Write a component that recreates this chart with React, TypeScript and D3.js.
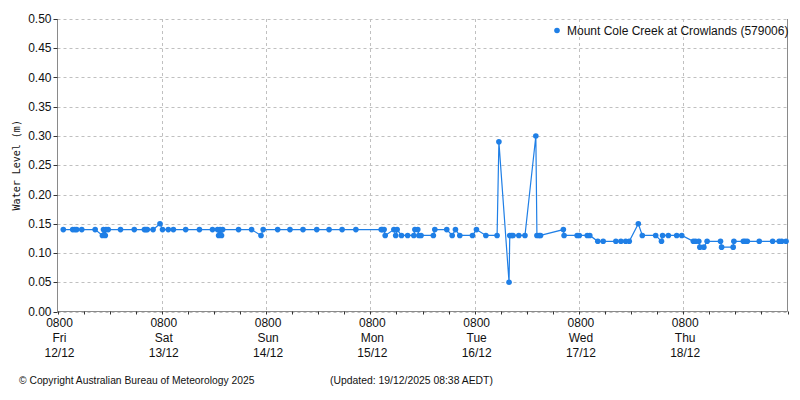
import React from "react";
import * as d3 from "d3";

const readingTimes = [
  "12 09:20", "12 11:30", "12 12:00", "12 12:25", "12 13:35", "12 16:40", "12 18:20", "12 18:35", "12 19:00", "12 19:10",
  "12 19:40", "12 22:30", "13 01:40", "13 04:00", "13 04:20", "13 04:40", "13 06:00", "13 07:35", "13 08:10", "13 09:30",
  "13 10:40", "13 13:30", "13 16:40", "13 19:40", "13 20:50", "13 21:05", "13 21:25", "13 21:45", "13 22:00", "14 01:40",
  "14 04:40", "14 06:50", "14 07:20", "14 10:40", "14 13:30", "14 16:30", "14 19:40", "14 22:30", "15 01:30", "15 04:40",
  "15 10:30", "15 10:45", "15 11:10", "15 11:25", "15 13:25", "15 13:50", "15 14:10", "15 15:10", "15 16:35", "15 18:00",
  "15 18:15", "15 18:55", "15 19:10", "15 19:40", "15 22:30", "15 22:50", "16 01:35", "16 02:50", "16 03:35", "16 04:35",
  "16 07:30", "16 08:25", "16 10:35", "16 13:10", "16 13:35", "16 15:55", "16 16:05", "16 16:30", "16 16:50", "16 18:10",
  "16 19:35", "16 22:05", "16 22:20", "16 22:50", "16 23:10", "17 04:25", "17 04:35", "17 07:35", "17 08:05", "17 09:55",
  "17 10:30", "17 12:20", "17 13:35", "17 16:30", "17 17:40", "17 18:45", "17 19:35", "17 21:40", "17 22:35", "18 01:40",
  "18 03:00", "18 03:15", "18 04:35", "18 06:30", "18 07:40", "18 10:20", "18 10:50", "18 11:35", "18 11:50", "18 12:45",
  "18 13:30", "18 16:35", "18 16:50", "18 19:30", "18 19:40", "18 21:50", "18 22:15", "18 22:45", "19 01:30", "19 04:35",
  "19 06:05", "19 06:40", "19 07:40",
];

const readingLevels = [
  0.14, 0.14, 0.14, 0.14, 0.14, 0.14, 0.13, 0.14, 0.13, 0.14,
  0.14, 0.14, 0.14, 0.14, 0.14, 0.14, 0.14, 0.15, 0.14, 0.14,
  0.14, 0.14, 0.14, 0.14, 0.14, 0.13, 0.14, 0.13, 0.14, 0.14,
  0.14, 0.13, 0.14, 0.14, 0.14, 0.14, 0.14, 0.14, 0.14, 0.14,
  0.14, 0.14, 0.14, 0.13, 0.14, 0.13, 0.14, 0.13, 0.13, 0.13,
  0.14, 0.14, 0.13, 0.13, 0.13, 0.14, 0.14, 0.13, 0.14, 0.13,
  0.13, 0.14, 0.13, 0.13, 0.29, 0.05, 0.13, 0.13, 0.13, 0.13,
  0.13, 0.30, 0.13, 0.13, 0.13, 0.14, 0.13, 0.13, 0.13, 0.13,
  0.13, 0.12, 0.12, 0.12, 0.12, 0.12, 0.12, 0.15, 0.13, 0.13,
  0.12, 0.13, 0.13, 0.13, 0.13, 0.12, 0.12, 0.12, 0.11, 0.11,
  0.12, 0.12, 0.11, 0.11, 0.12, 0.12, 0.12, 0.12, 0.12, 0.12,
  0.12, 0.12, 0.12,
];

const yTicks = [0, 0.05, 0.1, 0.15, 0.2, 0.25, 0.3, 0.35, 0.4, 0.45, 0.5];
const dayStarts = ["12 08:00", "13 08:00", "14 08:00", "15 08:00", "16 08:00", "17 08:00", "18 08:00"];
const domainStrings = ["12 08:00", "19 08:00"];
const seriesName = "Mount Cole Creek at Crowlands (579006)";
const yTitle = "Water Level (m)";
const copyrightText = "\u00A9 Copyright Australian Bureau of Meteorology 2025";
const updatedText = "(Updated: 19/12/2025 08:38 AEDT)";

function parseT(s: string): Date {
  const [d, hm] = s.split(" ");
  const [h, m] = hm.split(":").map(Number);
  return new Date(2025, 11, Number(d), h, m);
}

const W = 800;
const H = 400;
const left = 57.5;
const right = 787.5;
const top = 19;
const bottom = 311.5;
const BLUE = "#1f7fe6";
const GRID = "#c0c0c0";
const AXIS = "#8a8a8a";
const FONT = "'Liberation Sans', Arial, sans-serif";

export default function App() {
  const start = parseT(domainStrings[0]);
  const end = parseT(domainStrings[1]);
  const x = d3.scaleTime().domain([start, end]).range([left, right]);
  const y = d3.scaleLinear().domain([0, 0.5]).range([bottom, top]);

  const data = readingTimes.map((t, i) => ({ t: parseT(t), v: readingLevels[i] }));
  const line = d3
    .line<{ t: Date; v: number }>()
    .x((d) => x(d.t))
    .y((d) => y(d.v));

  const days = dayStarts.map(parseT);
  const minor = d3.range(0, 7 * 24 + 1, 6).map((h) => d3.timeHour.offset(start, h));
  const fmtDay = d3.timeFormat("%a");
  const fmtDate = d3.timeFormat("%d/%m");
  const fmtHM = d3.timeFormat("%H%M");

  return (
    <svg width={W} height={H} style={{ position: "absolute", left: 0, top: 0, background: "#fff" }}>
      <rect x={0} y={0} width={W} height={H} fill="#fff" />
      {yTicks.map((t) => (
        <line
          key={"hg" + t}
          x1={left}
          x2={right}
          y1={Math.round(y(t)) + 0.5}
          y2={Math.round(y(t)) + 0.5}
          stroke={GRID}
          strokeDasharray="3,3"
        />
      ))}
      {days.slice(1).map((d, i) => (
        <line
          key={"vg" + i}
          x1={Math.round(x(d)) + 0.5}
          x2={Math.round(x(d)) + 0.5}
          y1={top}
          y2={bottom}
          stroke={GRID}
          strokeDasharray="3,3"
        />
      ))}
      <line x1={right} x2={right} y1={top} y2={bottom} stroke={AXIS} />
      <line x1={left} x2={left} y1={top} y2={bottom + 0.5} stroke={AXIS} />
      <line x1={left} x2={right} y1={bottom} y2={bottom} stroke={AXIS} />
      {yTicks.map((t) => (
        <g key={"yt" + t}>
          <line x1={left - 4} x2={left} y1={Math.round(y(t)) + 0.5} y2={Math.round(y(t)) + 0.5} stroke="#333" />
          <text x={left - 6} y={y(t) + 4} textAnchor="end" fontFamily={FONT} fontSize={12} fill="#111">
            {t.toFixed(2)}
          </text>
        </g>
      ))}
      {minor.map((d, i) => (
        <line
          key={"xt" + i}
          x1={Math.round(x(d)) + 0.5}
          x2={Math.round(x(d)) + 0.5}
          y1={bottom}
          y2={bottom + 3}
          stroke="#333"
        />
      ))}
      {days.map((d, i) => (
        <g key={"xl" + i} fontFamily={FONT} fontSize={12} fill="#111" textAnchor="middle">
          <text x={x(d) + 2} y={327}>{fmtHM(d)}</text>
          <text x={x(d) + 2} y={342}>{fmtDay(d)}</text>
          <text x={x(d) + 2} y={357}>{fmtDate(d)}</text>
        </g>
      ))}
      <text
        transform={`translate(20,${(top + bottom) / 2}) rotate(-90)`}
        textAnchor="middle"
        fontFamily="'DejaVu Sans Mono', monospace"
        fontSize={10}
        fill="#111"
      >
        {yTitle}
      </text>
      <path d={line(data) || ""} fill="none" stroke={BLUE} strokeWidth={1.2} />
      {data.map((d, i) => (
        <circle key={"p" + i} cx={x(d.t)} cy={y(d.v)} r={2.8} fill={BLUE} />
      ))}
      <circle cx={557} cy={30.5} r={2.8} fill={BLUE} />
      <text x={567} y={35} fontFamily={FONT} fontSize={12} fill="#111">
        {seriesName}
      </text>
      <text x={19} y={384} fontFamily={FONT} fontSize={10.3} fill="#111">
        {copyrightText}
      </text>
      <text x={330} y={384} fontFamily={FONT} fontSize={10.4} fill="#111">
        {updatedText}
      </text>
    </svg>
  );
}
